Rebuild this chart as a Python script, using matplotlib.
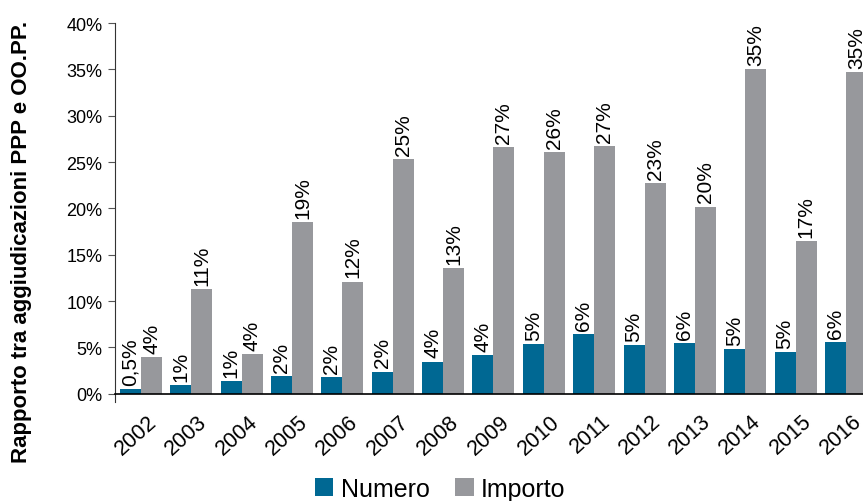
import matplotlib.pyplot as plt
import numpy as np

plt.rcParams['font.family'] = ['Liberation Sans', 'DejaVu Sans']

years = ["2002", "2003", "2004", "2005", "2006", "2007", "2008", "2009",
         "2010", "2011", "2012", "2013", "2014", "2015", "2016"]

numero = [0.54, 0.9, 1.33, 1.87, 1.76, 2.4, 3.48, 4.13, 5.39, 6.47, 5.28, 5.5, 4.85, 4.53, 5.6]
importo = [4.0, 11.3, 4.3, 18.5, 12.1, 25.3, 13.6, 26.6, 26.1, 26.7, 22.7, 20.2, 35.0, 16.5, 34.7]

numero_labels = ["0,5%", "1%", "1%", "2%", "2%", "2%", "4%", "4%",
                 "5%", "6%", "5%", "6%", "5%", "5%", "6%"]
importo_labels = ["4%", "11%", "4%", "19%", "12%", "25%", "13%", "27%",
                  "26%", "27%", "23%", "20%", "35%", "17%", "35%"]

yticks = [0, 5, 10, 15, 20, 25, 30, 35, 40]

blue = '#006893'
gray = '#97989c'

x = np.arange(len(years))
w = 0.417

fig = plt.figure(figsize=(8.63, 5.02), dpi=100)
ax = fig.add_axes([0.1333, 0.197, 0.877, 0.755])

ax.bar(x - w / 2, numero, width=w, color=blue, label="Numero")
ax.bar(x + w / 2, importo, width=w, color=gray, label="Importo")

for i in range(len(years)):
    ax.annotate(numero_labels[i], (x[i] - w / 2, numero[i]), xytext=(0, 3),
                textcoords='offset points', rotation=90, ha='center', va='bottom',
                fontsize=15)
    ax.annotate(importo_labels[i], (x[i] + w / 2, importo[i]), xytext=(0, 3),
                textcoords='offset points', rotation=90, ha='center', va='bottom',
                fontsize=15)

ax.set_xlim(-0.516, len(years) - 1 + 0.516)
ax.set_ylim(-0.9, 40)
ax.spines['top'].set_visible(False)
ax.spines['right'].set_visible(False)
ax.spines['bottom'].set_position(('data', 0))
ax.spines['left'].set_linewidth(0.8)
ax.spines['bottom'].set_linewidth(1.2)
ax.spines['left'].set_color('#333333')

ax.set_yticks(yticks)
ax.set_yticklabels([f"{t}%" for t in yticks], fontsize=13)
ax.tick_params(axis='y', length=5, width=0.8, color='#555555', pad=4)

# year labels sit a bit right of the group centre, like the original
ax.set_xticks(x + 0.12)
ax.set_xticklabels(years, rotation=42, ha='right', rotation_mode='anchor', fontsize=15.5)
ax.tick_params(axis='x', length=0, pad=12)

ax.set_ylabel("Rapporto tra aggiudicazioni PPP e OO.PP.", fontsize=16,
              fontweight='bold')
ax.yaxis.set_label_coords(-0.11, 0.425)

fig.legend(loc='center', bbox_to_anchor=(0.51, 0.024), ncol=2, frameon=False,
           fontsize=18, handlelength=0.75, handleheight=0.75, handletextpad=0.3,
           columnspacing=1.0)

fig.savefig("out.png", dpi=100)
